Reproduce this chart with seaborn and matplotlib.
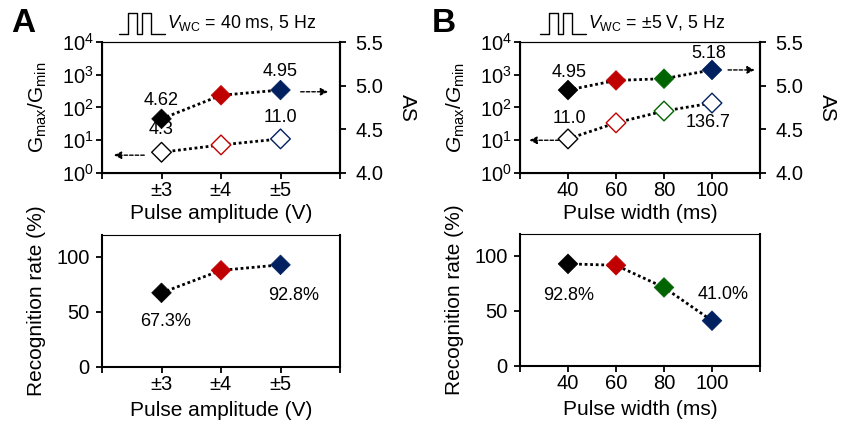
import matplotlib
matplotlib.use('Agg')
import numpy as np
import pandas as pd
import seaborn as sns
import matplotlib.pyplot as plt
from matplotlib.lines import Line2D
from matplotlib.ticker import NullLocator

# ---------------- data ----------------
amp_labels = ['±3', '±4', '±5']
amp_AS = [4.62, 4.89, 4.95]
amp_ratio = [4.3, 7.2, 11.0]
amp_rate = [67.3, 87.8, 92.8]
amp_colors = ['#000000', '#C00000', '#002060']

width_ms = [40, 60, 80, 100]
width_AS = [4.95, 5.06, 5.08, 5.18]
width_ratio = [11.0, 34.0, 78.0, 136.7]
width_rate = [92.8, 91.5, 71.3, 41.0]
width_colors = ['#000000', '#C00000', '#006400', '#002060']

# ---------------- style ----------------
sns.set_style('ticks')
plt.rcParams['font.family'] = ['Liberation Sans', 'DejaVu Sans']
plt.rcParams['mathtext.fontset'] = 'custom'
plt.rcParams['mathtext.rm'] = 'Liberation Sans'
plt.rcParams['mathtext.it'] = 'Liberation Sans:italic'
plt.rcParams['mathtext.bf'] = 'Liberation Sans:bold'
for k in ['text.color', 'axes.labelcolor', 'xtick.color', 'ytick.color', 'axes.edgecolor']:
    plt.rcParams[k] = 'black'

FS = 14.5   # tick labels
AFS = 13    # annotations
LFS = 15    # axis labels
HFS = 12.8  # header

W, H = 844, 425
fig = plt.figure(figsize=(W / 100, H / 100), dpi=100)


def px_axes(l, t, r, b):
    return fig.add_axes([l / W, 1 - b / H, (r - l) / W, (b - t) / H])


def series(ax, x, y, colors, filled):
    df = pd.DataFrame({'x': x, 'y': y})
    sns.lineplot(data=df, x='x', y='y', ax=ax, color='black', lw=2,
                 linestyle=(0, (1, 1)), zorder=1)
    sns.scatterplot(data=df, x='x', y='y', hue='x', palette=dict(zip(x, colors)),
                    marker='D', s=100, legend=False, ax=ax, zorder=3)
    coll = ax.collections[-1]
    fc = coll.get_facecolor()
    coll.set_edgecolor(fc)
    if filled:
        coll.set_linewidth(0.5)
    else:
        coll.set_facecolor('white')
        coll.set_linewidth(1.0)


def style_spines(ax):
    for s in ['left', 'bottom', 'right']:
        ax.spines[s].set_visible(True)
        ax.spines[s].set_linewidth(1.5)
    ax.spines['top'].set_visible(True)
    ax.spines['top'].set_linewidth(0.8)
    ax.tick_params(axis='both', direction='out', length=4, width=1.3,
                   labelsize=FS, pad=2)
    ax.tick_params(axis='y', pad=3)


def lab(ax, text, x, y, dx, dy, host=None):
    host = host or ax
    host.annotate(text, (x, y), xycoords=ax.transData,
                  xytext=(dx * 0.72, dy * 0.72), textcoords='offset points',
                  ha='center', va='center', fontsize=AFS, zorder=10)


def arrow(ax, x0, x1, y):
    ax.annotate('', xy=(x1, y), xytext=(x0, y),
                arrowprops=dict(arrowstyle='-|>', color='black', lw=1.0,
                                linestyle=(0, (2.5, 1.5)), mutation_scale=11,
                                shrinkA=0, shrinkB=0))


def top_panel(ax, x, AS, ratio, colors, ylab):
    style_spines(ax)
    ax.set_yscale('log')
    series(ax, x, ratio, colors, filled=False)
    ax.set_ylim(1, 1e4)
    ax.set_yticks([1, 10, 100, 1000, 10000])
    ax.yaxis.set_minor_locator(NullLocator())
    ax.tick_params(axis='y', pad=2)
    ax.set_ylabel(ylab, fontsize=LFS, labelpad=9)
    ax2 = ax.twinx()
    series(ax2, x, AS, colors, filled=True)
    ax2.set_ylim(4.0, 5.5)
    ax2.set_yticks([4.0, 4.5, 5.0, 5.5])
    ax2.set_yticklabels(['4.0', '4.5', '5.0', '5.5'])
    ax2.tick_params(axis='y', direction='out', length=4, width=1.3, labelsize=FS, pad=7)
    ax2.spines['right'].set_linewidth(1.5)
    ax2.set_ylabel('AS', fontsize=LFS, rotation=270, labelpad=24)
    return ax2


def bottom_panel(ax, x, rate, colors):
    style_spines(ax)
    series(ax, x, rate, colors, filled=True)
    ax.set_ylim(0, 120)
    ax.set_yticks([0, 50, 100])
    ax.set_yticklabels(['0', '50', '100'])
    ax.tick_params(axis='y', pad=5)
    ax.set_ylabel('Recognition rate (%)', fontsize=LFS, labelpad=7)


# ---------------- Panel A ----------------
axA = px_axes(102, 42, 340, 173)
axA2 = top_panel(axA, amp_labels, amp_AS, amp_ratio, amp_colors,
                 r'$\mathrm{G_{max}/G_{min}}$')
axA.set_xlim(-1, 3)
axA.set_xticks([-1, 0, 1, 2, 3])
axA.set_xticklabels([''] + amp_labels + [''])
axA.set_xlabel('Pulse amplitude (V)', fontsize=LFS, labelpad=3)
lab(axA2, f'{amp_AS[0]:.2f}', 0, amp_AS[0], 0, 18)
lab(axA2, f'{amp_AS[2]:.2f}', 2, amp_AS[2], 0, 19)
lab(axA, f'{amp_ratio[2]:.1f}', 2, amp_ratio[2], 0, 21, host=axA2)
lab(axA, f'{amp_ratio[0]:.1f}', 0, amp_ratio[0], 0, 23, host=axA2)
arrow(axA2, 2.34, 2.8, 4.93)
arrow(axA, -0.29, -0.8, 3.5)

axAb = px_axes(102, 235, 340, 366.7)
bottom_panel(axAb, amp_labels, amp_rate, amp_colors)
axAb.set_xlim(-1, 3)
axAb.set_xticks([-1, 0, 1, 2, 3])
axAb.set_xticklabels([''] + amp_labels + [''])
axAb.set_xlabel('Pulse amplitude (V)', fontsize=LFS, labelpad=5)
lab(axAb, f'{amp_rate[0]:.1f}%', 0, amp_rate[0], 4, -29)
lab(axAb, f'{amp_rate[2]:.1f}%', 2, amp_rate[2], 13, -31)

# ---------------- Panel B ----------------
axB = px_axes(520, 42, 760, 173)
axB2 = top_panel(axB, width_ms, width_AS, width_ratio, width_colors,
                 r'$G_{\mathrm{max}}/G_{\mathrm{min}}$')
axB.set_xlim(20, 120)
axB.set_xticks([20, 40, 60, 80, 100, 120])
axB.set_xticklabels([''] + [str(v) for v in width_ms] + [''])
axB.set_xlabel('Pulse width (ms)', fontsize=LFS, labelpad=3)
lab(axB2, f'{width_AS[0]:.2f}', 40, width_AS[0], 1, 18)
lab(axB2, f'{width_AS[3]:.2f}', 100, width_AS[3], -3, 16)
lab(axB, f'{width_ratio[0]:.1f}', 40, width_ratio[0], 1, 20, host=axB2)
lab(axB, f'{width_ratio[3]:.1f}', 100, width_ratio[3], -4, -19, host=axB2)
arrow(axB2, 106.7, 117.8, 5.18)
arrow(axB, 36.3, 23.9, 10)

axBb = px_axes(520, 234, 760, 365.7)
bottom_panel(axBb, width_ms, width_rate, width_colors)
axBb.set_xlim(20, 120)
axBb.set_xticks([20, 40, 60, 80, 100, 120])
axBb.set_xticklabels([''] + [str(v) for v in width_ms] + [''])
axBb.set_xlabel('Pulse width (ms)', fontsize=LFS, labelpad=5)
lab(axBb, f'{width_rate[0]:.1f}%', 40, width_rate[0], 1, -32)
lab(axBb, f'{width_rate[3]:.1f}%', 100, width_rate[3], 11, 26)


# ---------------- headers ----------------
def header(x_off, text, letter, letter_x):
    xs = np.array([119, 128, 128, 137, 137, 142, 142, 151, 151, 165]) + x_off
    ys = np.array([34, 34, 13, 13, 34, 34, 13, 13, 34, 34])
    fig.add_artist(Line2D(xs / W, 1 - ys / H, transform=fig.transFigure,
                          color='black', lw=1.0))
    fig.text((167 + x_off) / W, 1 - 23 / H, text, fontsize=HFS, ha='left', va='center')
    fig.text(letter_x / W, 1 - 24 / H, letter, fontsize=24, fontweight='bold',
             ha='left', va='center')


header(0, r'$V_{\mathrm{WC}}$ = 40 ms, 5 Hz', 'A', 11)
header(420.7, r'$V_{\mathrm{WC}}$ = ±5 V, 5 Hz', 'B', 432)

fig.savefig('out.png', dpi=100)
